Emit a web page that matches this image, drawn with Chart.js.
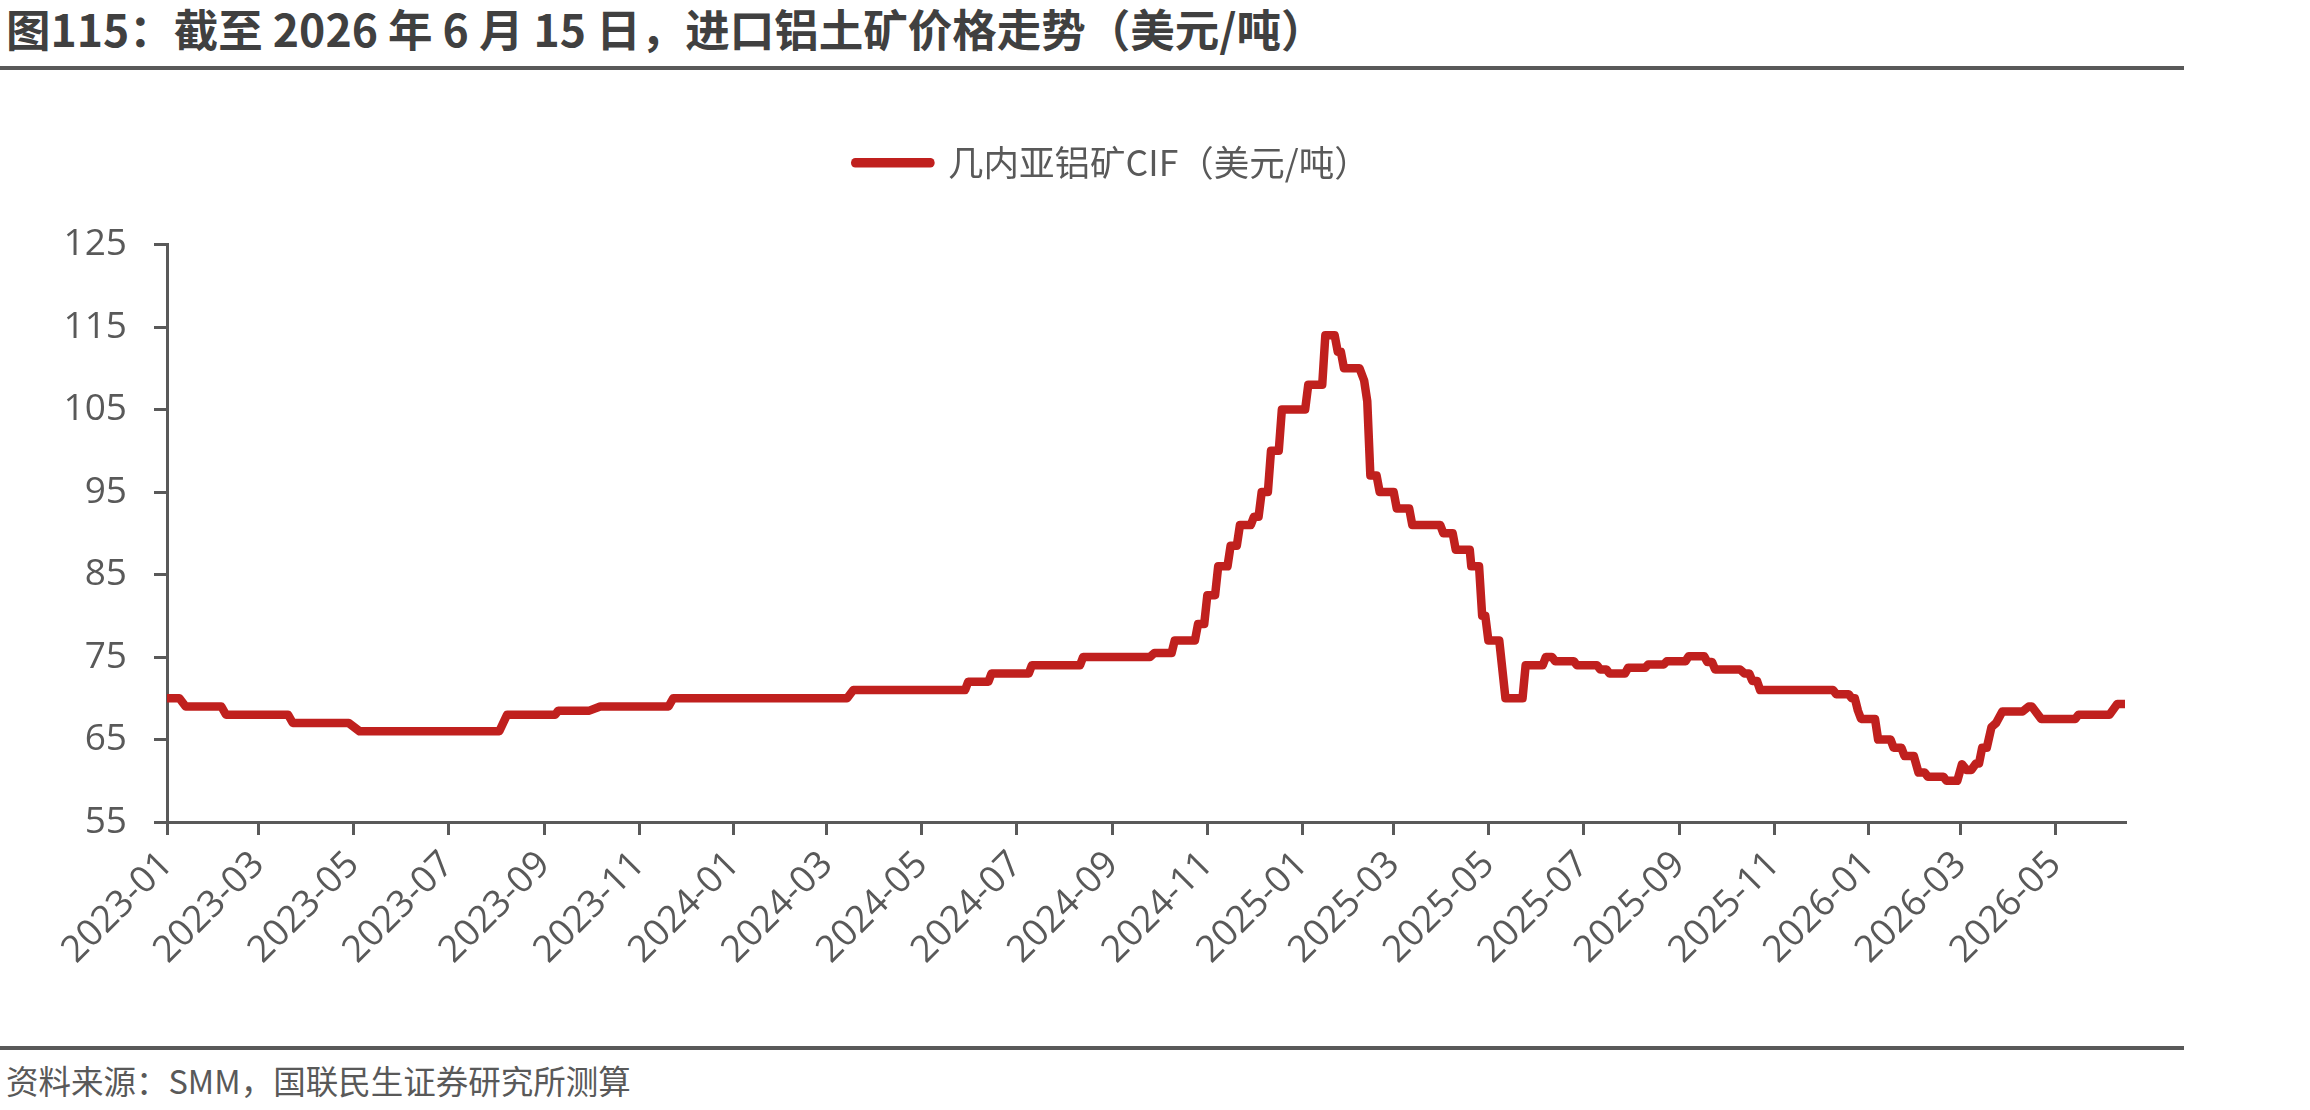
<!DOCTYPE html>
<html lang="zh">
<head>
    <meta charset="UTF-8">
    <title>进口铝土矿价格走势</title>
    <script src="https://cdn.jsdelivr.net/npm/chart.js"></script>
    <style>
        body {
            margin: 0;
            width: 2310px;
            height: 1110px;
            background: #fff;
            position: relative;
            overflow: hidden;
            font-family: "Noto Sans CJK SC", "Noto Sans", sans-serif;
        }
        .title {
            position: absolute;
            left: 6px;
            top: 0;
            font-size: 44.5px;
            font-weight: bold;
            color: #404040;
            line-height: 56px;
            white-space: nowrap;
        }
        .rule {
            position: absolute;
            left: 0;
            width: 2184px;
            height: 4px;
            background: #595959;
        }
        .chart-box {
            position: absolute;
            left: 0;
            top: 70px;
            width: 2310px;
            height: 932px;
        }
        .source {
            position: absolute;
            left: 6px;
            top: 1059px;
            font-size: 32.5px;
            color: #595959;
            line-height: 42px;
            white-space: nowrap;
        }
    </style>
</head>
<body>
    <div class="title">图115：截至 2026 年 6 月 15 日，进口铝土矿价格走势（美元/吨）</div>
    <div class="rule" style="top:66px"></div>
    <div class="chart-box">
        <canvas id="priceChart"></canvas>
    </div>
    <div class="rule" style="top:1046px"></div>
    <div class="source">资料来源：SMM，国联民生证券研究所测算</div>

    <script>
        // series (start/end of each price level)
        const seriesName = '几内亚铝矿CIF（美元/吨）';
        const dates = [
            '2023-01-01', '2023-01-09', '2023-01-13', '2023-02-05', '2023-02-08', '2023-03-20',
            '2023-03-23', '2023-04-28', '2023-05-05', '2023-08-03', '2023-08-08', '2023-09-08',
            '2023-09-10', '2023-09-30', '2023-10-07', '2023-11-20', '2023-11-23', '2024-03-14',
            '2024-03-18', '2024-05-29', '2024-05-31', '2024-06-13', '2024-06-15', '2024-07-09',
            '2024-07-11', '2024-08-11', '2024-08-13', '2024-09-25', '2024-09-28', '2024-10-09',
            '2024-10-11', '2024-10-24', '2024-10-26', '2024-10-30', '2024-11-01', '2024-11-06',
            '2024-11-08', '2024-11-14', '2024-11-16', '2024-11-20', '2024-11-22', '2024-11-29',
            '2024-12-01', '2024-12-04', '2024-12-06', '2024-12-10', '2024-12-12', '2024-12-17',
            '2024-12-19', '2025-01-03', '2025-01-05', '2025-01-14', '2025-01-16', '2025-01-22',
            '2025-01-24', '2025-01-26', '2025-01-28', '2025-02-07', '2025-02-10', '2025-02-12',
            '2025-02-14', '2025-02-18', '2025-02-20', '2025-03-01', '2025-03-03', '2025-03-11',
            '2025-03-13', '2025-03-31', '2025-04-02', '2025-04-08', '2025-04-10', '2025-04-19',
            '2025-04-20', '2025-04-25', '2025-04-27', '2025-04-29', '2025-05-01', '2025-05-08',
            '2025-05-12', '2025-05-23', '2025-05-25', '2025-06-05', '2025-06-07', '2025-06-11',
            '2025-06-13', '2025-06-25', '2025-06-27', '2025-07-10', '2025-07-12', '2025-07-16',
            '2025-07-18', '2025-07-28', '2025-07-30', '2025-08-10', '2025-08-12', '2025-08-22',
            '2025-08-24', '2025-09-05', '2025-09-07', '2025-09-17', '2025-09-19', '2025-09-22',
            '2025-09-24', '2025-10-10', '2025-10-13', '2025-10-16', '2025-10-18', '2025-10-21',
            '2025-10-23', '2025-12-09', '2025-12-11', '2025-12-19', '2025-12-21', '2025-12-23',
            '2025-12-25', '2025-12-27', '2026-01-05', '2026-01-07', '2026-01-15', '2026-01-17',
            '2026-01-22', '2026-01-24', '2026-01-30', '2026-02-02', '2026-02-06', '2026-02-08',
            '2026-02-18', '2026-02-20', '2026-02-27', '2026-03-02', '2026-03-05', '2026-03-08',
            '2026-03-11', '2026-03-13', '2026-03-15', '2026-03-18', '2026-03-21', '2026-03-24',
            '2026-03-28', '2026-04-10', '2026-04-14', '2026-04-16', '2026-04-22', '2026-05-14',
            '2026-05-16', '2026-06-05', '2026-06-10', '2026-06-15'
        ];
        const prices = [
            70, 70, 69, 69, 68, 68,
            67, 67, 66, 66, 68, 68,
            68.5, 68.5, 69, 69, 70, 70,
            71, 71, 72, 72, 73, 73,
            74, 74, 75, 75, 75.5, 75.5,
            77, 77, 79, 79, 82.5, 82.5,
            86, 86, 88.5, 88.5, 91, 91,
            92, 92, 95, 95, 100, 100,
            105, 105, 108, 108, 114, 114,
            112, 112, 110, 110, 108.5, 106,
            97, 97, 95, 95, 93, 93,
            91, 91, 90, 90, 88, 88,
            86, 86, 80, 80, 77, 77,
            70, 70, 74, 74, 75, 75,
            74.5, 74.5, 74, 74, 73.5, 73.5,
            73, 73, 73.7, 73.7, 74.1, 74.1,
            74.5, 74.5, 75.1, 75.1, 74.4, 74.4,
            73.5, 73.5, 73, 73, 72.1, 72.1,
            71, 71, 70.5, 70.5, 70, 70,
            68.5, 67.5, 67.5, 65, 65, 64,
            64, 63, 63, 61, 61, 60.5,
            60.5, 60, 60, 62, 61.3, 61.3,
            62.1, 62.1, 64, 64, 66.5, 67,
            68.4, 68.4, 69, 69, 67.5, 67.5,
            68, 68, 69.3, 69.3
        ];
        const xTickLabels = [
            '2023-01', '2023-03', '2023-05', '2023-07', '2023-09', '2023-11',
            '2024-01', '2024-03', '2024-05', '2024-07', '2024-09', '2024-11',
            '2025-01', '2025-03', '2025-05', '2025-07', '2025-09', '2025-11',
            '2026-01', '2026-03', '2026-05'
        ];
        const yTicks = [55, 65, 75, 85, 95, 105, 115, 125];
        const lastDate = '2026-06-15';

        // days since 2023-01-01
        const origin = Date.UTC(2023, 0, 1);
        function dayOf(s) {
            const p = s.split('-').map(Number);
            return (Date.UTC(p[0], p[1] - 1, p[2] || 1) - origin) / 86400000;
        }

        const axisColor = '#595959';
        const tickFont = { family: '"Open Sans", "Noto Sans", sans-serif', size: 37 };

        // legend sits a little right of the canvas centre in the original
        const legendOffset = {
            id: 'legendOffset',
            afterLayout(chart) {
                chart.legend.left += 50;
                chart.legend.right += 50;
            }
        };

        const ctx = document.getElementById('priceChart').getContext('2d');
        new Chart(ctx, {
            type: 'line',
            data: {
                datasets: [{
                    label: seriesName,
                    data: dates.map((d, i) => ({ x: dayOf(d), y: prices[i] })),
                    borderColor: '#C0201E',
                    backgroundColor: '#C0201E',
                    borderWidth: 8.5,
                    borderJoinStyle: 'round',
                    borderCapStyle: 'round',
                    pointRadius: 0,
                    tension: 0
                }]
            },
            options: {
                responsive: true,
                maintainAspectRatio: false,
                animation: false,
                layout: { padding: { left: 0, right: 185, top: 11, bottom: 0 } },
                plugins: {
                    legend: {
                        labels: {
                            boxWidth: 75,
                            boxHeight: 1,
                            padding: 64,
                            color: '#595959',
                            font: { family: '"Noto Sans CJK SC", sans-serif', size: 35.5 }
                        }
                    },
                    // empty spacer between legend and plot
                    subtitle: {
                        display: true,
                        text: '',
                        weight: 500,
                        font: { size: 10 },
                        padding: { top: 0, bottom: 42 }
                    },
                    tooltip: { enabled: false }
                },
                scales: {
                    x: {
                        type: 'linear',
                        min: 0,
                        max: dayOf(lastDate),
                        afterFit: s => { s.height = 180; },
                        afterBuildTicks: s => { s.ticks = xTickLabels.map(l => ({ value: dayOf(l) })); },
                        ticks: {
                            autoSkip: false,
                            minRotation: 45,
                            maxRotation: 45,
                            padding: 8,
                            color: axisColor,
                            font: tickFont,
                            callback: (v, i) => xTickLabels[i]
                        },
                        grid: { drawOnChartArea: false, tickLength: 13, color: axisColor, lineWidth: 3 },
                        border: { color: axisColor, width: 3 }
                    },
                    y: {
                        min: 55,
                        max: 125,
                        afterFit: s => { s.width = 167; },
                        afterBuildTicks: s => { s.ticks = yTicks.map(v => ({ value: v })); },
                        ticks: { padding: 27, color: axisColor, font: tickFont },
                        grid: { drawOnChartArea: false, tickLength: 13, color: axisColor, lineWidth: 3 },
                        border: { color: axisColor, width: 3 }
                    }
                }
            },
            plugins: [legendOffset]
        });
    </script>
</body>
</html>
